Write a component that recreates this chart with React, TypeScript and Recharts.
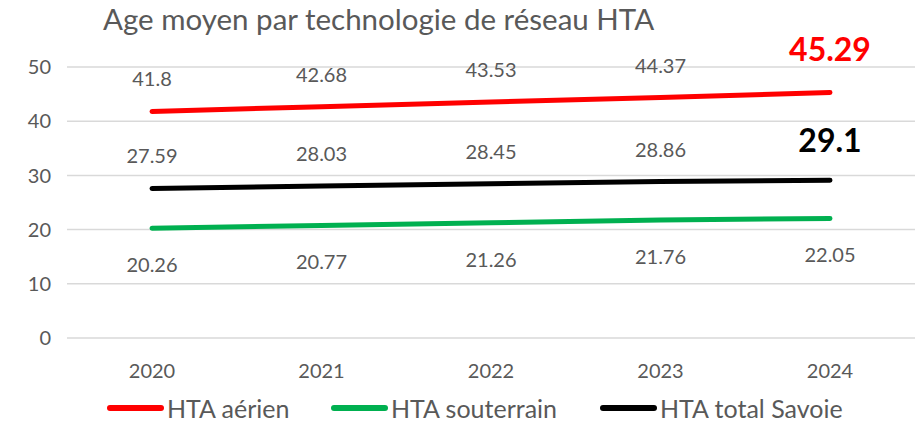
import React from "react";
import { LineChart, Line, XAxis, YAxis, CartesianGrid, LabelList } from "recharts";

const years = ["2020", "2021", "2022", "2023", "2024"];
const aerien = [41.8, 42.68, 43.53, 44.37, 45.29];
const souterrain = [20.26, 20.77, 21.26, 21.76, 22.05];
const total = [27.59, 28.03, 28.45, 28.86, 29.1];
const yTicks = [0, 10, 20, 30, 40, 50];

const data = years.map((y, i) => ({
  year: y,
  aerien: aerien[i],
  souterrain: souterrain[i],
  total: total[i],
}));

const FONT = "Lato, 'Liberation Sans', sans-serif";
const GREY = "#595959";

const makeLabel = (above: boolean, lastColor: string, lastBold: boolean, lastDy: number) => (props: any) => {
  const { x, y, value, index } = props;
  const last = index === years.length - 1 && lastBold;
  const dy = above ? (last ? lastDy : -33) : 36;
  return (
    <text
      x={x}
      y={y + dy}
      textAnchor="middle"
      dominantBaseline="central"
      fontFamily={FONT}
      fontSize={last ? 32 : 20}
      fontWeight={last ? 700 : 400}
      fill={last ? lastColor : GREY}
    >
      {String(value)}
    </text>
  );
};

const legendItems = [
  { name: "HTA aérien", color: "#ff0000", x: 107 },
  { name: "HTA souterrain", color: "#00b050", x: 331 },
  { name: "HTA total Savoie", color: "#000000", x: 600 },
];

export default function App() {
  return (
    <div style={{ position: "fixed", left: 0, top: 0, width: 915, height: 423, background: "#fff" }}>
      <div
        style={{
          position: "absolute",
          left: 103,
          top: 1,
          fontFamily: FONT,
          fontSize: 29.5,
          lineHeight: 1.2,
          color: GREY,
          whiteSpace: "nowrap",
        }}
      >
        Age moyen par technologie de réseau HTA
      </div>
      <LineChart width={915} height={423} data={data} margin={{ top: 67, right: 0, bottom: 55, left: 0 }}>
        <CartesianGrid vertical={false} stroke="#d9d9d9" strokeWidth={1.5} />
        <XAxis
          dataKey="year"
          axisLine={false}
          tickLine={false}
          padding={{ left: 85, right: 85 }}
          tick={{ fontFamily: FONT, fontSize: 20, fill: GREY }}
          tickMargin={20}
        />
        <YAxis
          domain={[0, 50]}
          ticks={yTicks}
          width={67}
          axisLine={false}
          tickLine={false}
          tickSize={0}
          tickMargin={16}
          tick={{ fontFamily: FONT, fontSize: 20, fill: GREY }}
        />
        <Line dataKey="aerien" stroke="#ff0000" strokeWidth={5} dot={false} isAnimationActive={false} strokeLinecap="round">
          <LabelList dataKey="aerien" content={makeLabel(true, "#ff0000", true, -44)} />
        </Line>
        <Line dataKey="souterrain" stroke="#00b050" strokeWidth={5} dot={false} isAnimationActive={false} strokeLinecap="round">
          <LabelList dataKey="souterrain" content={makeLabel(false, GREY, false, 0)} />
        </Line>
        <Line dataKey="total" stroke="#000000" strokeWidth={5} dot={false} isAnimationActive={false} strokeLinecap="round">
          <LabelList dataKey="total" content={makeLabel(true, "#000000", true, -41)} />
        </Line>
      </LineChart>
      {legendItems.map((it, i) => (
        <div
          key={i}
          style={{
            position: "absolute",
            left: it.x,
            top: 393,
            height: 30,
            display: "flex",
            alignItems: "center",
            fontFamily: FONT,
            fontSize: 25,
            color: GREY,
            whiteSpace: "nowrap",
          }}
        >
          <svg width={57} height={10} style={{ display: "block" }}>
            <line x1={3} y1={5} x2={54} y2={5} stroke={it.color} strokeWidth={6} strokeLinecap="round" />
          </svg>
          <span style={{ marginLeft: 3 }}>{it.name}</span>
        </div>
      ))}
    </div>
  );
}
